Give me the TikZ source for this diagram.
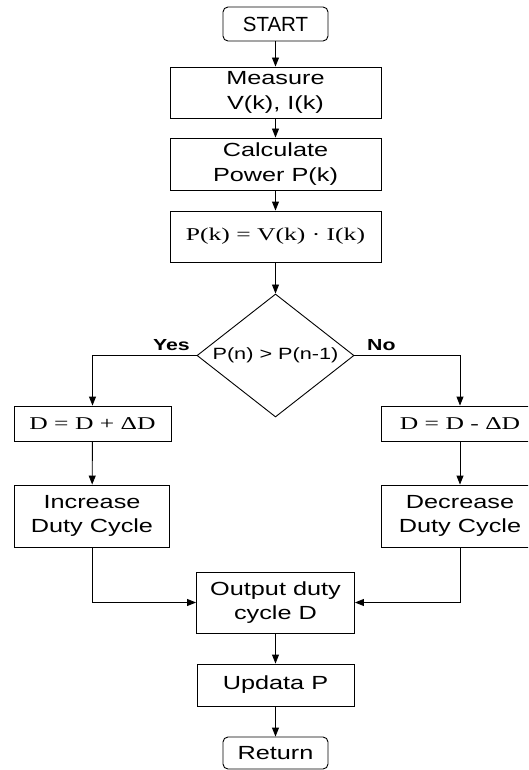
\documentclass[tikz,border=0pt]{standalone}
\usepackage{fontspec}
\setmainfont{Liberation Sans}[FakeStretch=1.33]
\newfontfamily\serifst{Liberation Serif}[FakeStretch=1.42]
\newfontfamily\plainsans{Liberation Sans}
\usetikzlibrary{shapes.geometric,arrows.meta}
\tikzset{
  box/.style={draw=black, line width=0.9pt, rectangle, inner sep=0pt, align=center,
    font=\fontsize{19}{24.5}\selectfont},
  term/.style={box, rounded corners=5pt},
  formula/.style={box, font=\serifst\fontsize{18}{22}\selectfont},
  decision/.style={draw=black, line width=0.9pt, diamond, aspect=1.28, inner sep=0pt,
    minimum width=157pt, minimum height=123pt, font=\fontsize{16.3}{20}\selectfont},
  lab/.style={font=\bfseries\fontsize{16}{19}\selectfont, inner sep=0pt},
  flow/.style={draw=black, line width=0.9pt, -{Triangle[length=9pt,width=7pt]}},
}
\begin{document}
\begin{tikzpicture}[x=1pt,y=-1pt]
\useasboundingbox (0,0) rectangle (528,770);
\clip (0,0) rectangle (528,770);
\node[term, minimum width=105pt, minimum height=34pt, font=\plainsans\fontsize{20.5}{24}\selectfont] (start) at (275.5,24) {START};
\node[box, minimum width=211pt, minimum height=51pt] (meas) at (275.5,92.5) {Measure\\V(k), I(k)};
\node[box, minimum width=211pt, minimum height=52pt] (calc) at (275.5,164) {Calculate\\Power P(k)};
\node[formula, minimum width=211pt, minimum height=51pt] (pk) at (275.5,236.5) {P(k) = V(k) · I(k)};
\node[decision] (dec) at (275.5,355.5) {P(n) > P(n-1)};
\node[formula, minimum width=157pt, minimum height=35pt] (dplus) at (92.5,423.5) {D = D + ΔD};
\node[formula, minimum width=157pt, minimum height=35pt] (dminus) at (460,423.5) {D = D - ΔD};
\node[box, minimum width=155pt, minimum height=62pt] (inc) at (92,516) {Increase\\Duty Cycle};
\node[box, minimum width=157pt, minimum height=62pt] (decr) at (460,516) {Decrease\\Duty Cycle};
\node[box, minimum width=158pt, minimum height=61pt] (out) at (275.5,602.5) {Output duty\\cycle D};
\node[box, minimum width=157pt, minimum height=42pt] (upd) at (275.5,685) {Updata P};
\node[term, minimum width=105pt, minimum height=32pt] (ret) at (275.5,753) {Return};
\node[lab, anchor=south east] (yes) at (190,351) {Yes};
\node[lab, anchor=south west] (no) at (367,351) {No};
\draw[flow] (start) -- (meas);
\draw[flow] (meas) -- (calc);
\draw[flow] (calc) -- (pk);
\draw[flow] (pk) -- (dec);
\draw[flow] (dec.west) -| (dplus.north);
\draw[flow] (dec.east) -| (dminus.north);
\draw[flow] (dplus) -- (inc);
\draw[flow] (dminus) -- (decr);
\draw[flow] (inc.south) |- (out.west);
\draw[flow] (decr.south) |- (out.east);
\draw[flow] (out) -- (upd);
\draw[flow] (upd) -- (ret);
\end{tikzpicture}
\end{document}
